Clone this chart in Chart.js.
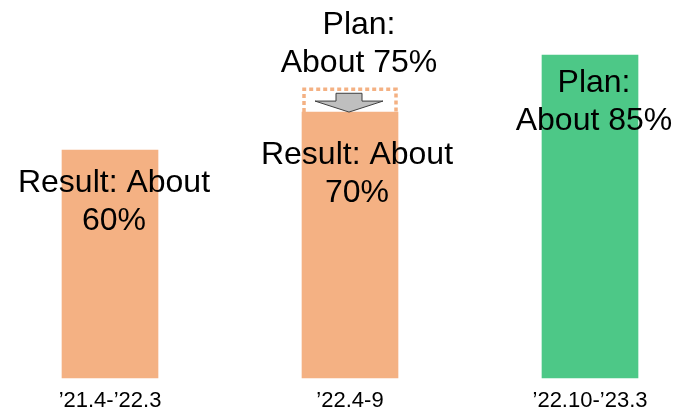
<!DOCTYPE html>
<html>
<head>
<meta charset="utf-8">
<script src="https://cdn.jsdelivr.net/npm/chart.js@4/dist/chart.umd.min.js"></script>
<style>
  html, body { margin: 0; padding: 0; background: #fff; }
  #chart { display: block; }
</style>
</head>
<body>
<canvas id="chart" width="690" height="412"></canvas>
<script>
// data
const periods = ["\u201921.4-\u201922.3", "\u201922.4-9", "\u201922.10-\u201923.3"];
const resultValues = [60, 70, null];
const planValues = [null, 76, 85];
const resultLabels = [["Result: About", "60%"], ["Result: About", "70%"], null];
const planLabels = [null, ["Plan:", "About 75%"], ["Plan:", "About 85%"]];

const ORANGE = "#F4B183";
const GREEN = "#4DC887";
const FONT = '"Liberation Sans", Arial, sans-serif';

// text offsets from bar centre / bar top
const resultTextPos = [{ dx: 4, dy: 42 }, { dx: 7, dy: 52 }, null];
const planTextPos = [null, { dx: 9, dy: -55 }, { dx: 4, dy: 37 }];
const LINE_GAP = 38;

const annotate = {
  id: "annotate",
  afterDatasetsDraw(chart) {
    const ctx = chart.ctx;
    const resultBars = chart.getDatasetMeta(0).data;
    const planBars = chart.getDatasetMeta(1).data;

    // dotted plan outline + arrow on the middle bar
    planValues.forEach((v, i) => {
      if (v == null || resultValues[i] == null) return;
      const pb = planBars[i];
      const rb = resultBars[i];
      const left = pb.x - pb.width / 2 + 2;
      const right = pb.x + pb.width / 2 - 2;
      const top = pb.y;
      const bottom = rb.y;
      ctx.save();
      ctx.strokeStyle = ORANGE;
      ctx.lineWidth = 3.5;
      ctx.setLineDash([4, 3]);
      ctx.beginPath();
      ctx.moveTo(left, bottom);
      ctx.lineTo(left, top);
      ctx.lineTo(right, top);
      ctx.lineTo(right, bottom);
      ctx.stroke();
      ctx.restore();

      // block arrow
      const cx = pb.x - 1;
      const tip = bottom;
      const wing = tip - 11;
      const shaftTop = top + 4;
      ctx.save();
      ctx.fillStyle = "#BFBFBF";
      ctx.strokeStyle = "#3F3F3F";
      ctx.lineWidth = 1;
      ctx.beginPath();
      ctx.moveTo(cx - 13, shaftTop);
      ctx.lineTo(cx + 13, shaftTop);
      ctx.lineTo(cx + 13, wing);
      ctx.lineTo(cx + 34, wing);
      ctx.lineTo(cx, tip);
      ctx.lineTo(cx - 34, wing);
      ctx.lineTo(cx - 13, wing);
      ctx.closePath();
      ctx.fill();
      ctx.stroke();
      ctx.restore();
    });

    // labels
    ctx.save();
    ctx.fillStyle = "#000";
    ctx.font = "32px " + FONT;
    ctx.textAlign = "center";
    ctx.textBaseline = "alphabetic";
    const drawLines = (bar, lines, pos) => {
      lines.forEach((t, k) => {
        ctx.fillText(t, bar.x + pos.dx, bar.y + pos.dy + k * LINE_GAP);
      });
    };
    resultLabels.forEach((lines, i) => {
      if (lines) drawLines(resultBars[i], lines, resultTextPos[i]);
    });
    planLabels.forEach((lines, i) => {
      if (lines) drawLines(planBars[i], lines, planTextPos[i]);
    });
    ctx.restore();
  }
};

new Chart(document.getElementById("chart"), {
  type: "bar",
  data: {
    labels: periods,
    datasets: [
      {
        label: "Result",
        data: resultValues,
        backgroundColor: ORANGE,
        borderWidth: 0,
        barThickness: 96,
        clip: false,
        order: 0
      },
      {
        label: "Plan",
        data: planValues,
        backgroundColor: planValues.map((v, i) => (resultValues[i] == null ? GREEN : "rgba(0,0,0,0)")),
        borderWidth: 0,
        barThickness: 96,
        clip: false,
        order: 1
      }
    ]
  },
  options: {
    responsive: false,
    animation: false,
    layout: { padding: { left: 110, right: 100, top: 0, bottom: -12 } },
    plugins: {
      legend: { display: false },
      tooltip: { enabled: false }
    },
    scales: {
      x: {
        offset: false,
        grid: { display: false, drawTicks: false },
        border: { display: false },
        ticks: {
          color: "#000",
          padding: 12,
          maxRotation: 0,
          autoSkip: false,
          font: { family: FONT, size: 22, lineHeight: 1 }
        }
      },
      y: {
        display: false,
        min: 0,
        max: 99.5
      }
    },
    datasets: { bar: { grouped: false } }
  },
  plugins: [annotate]
});
</script>
</body>
</html>
